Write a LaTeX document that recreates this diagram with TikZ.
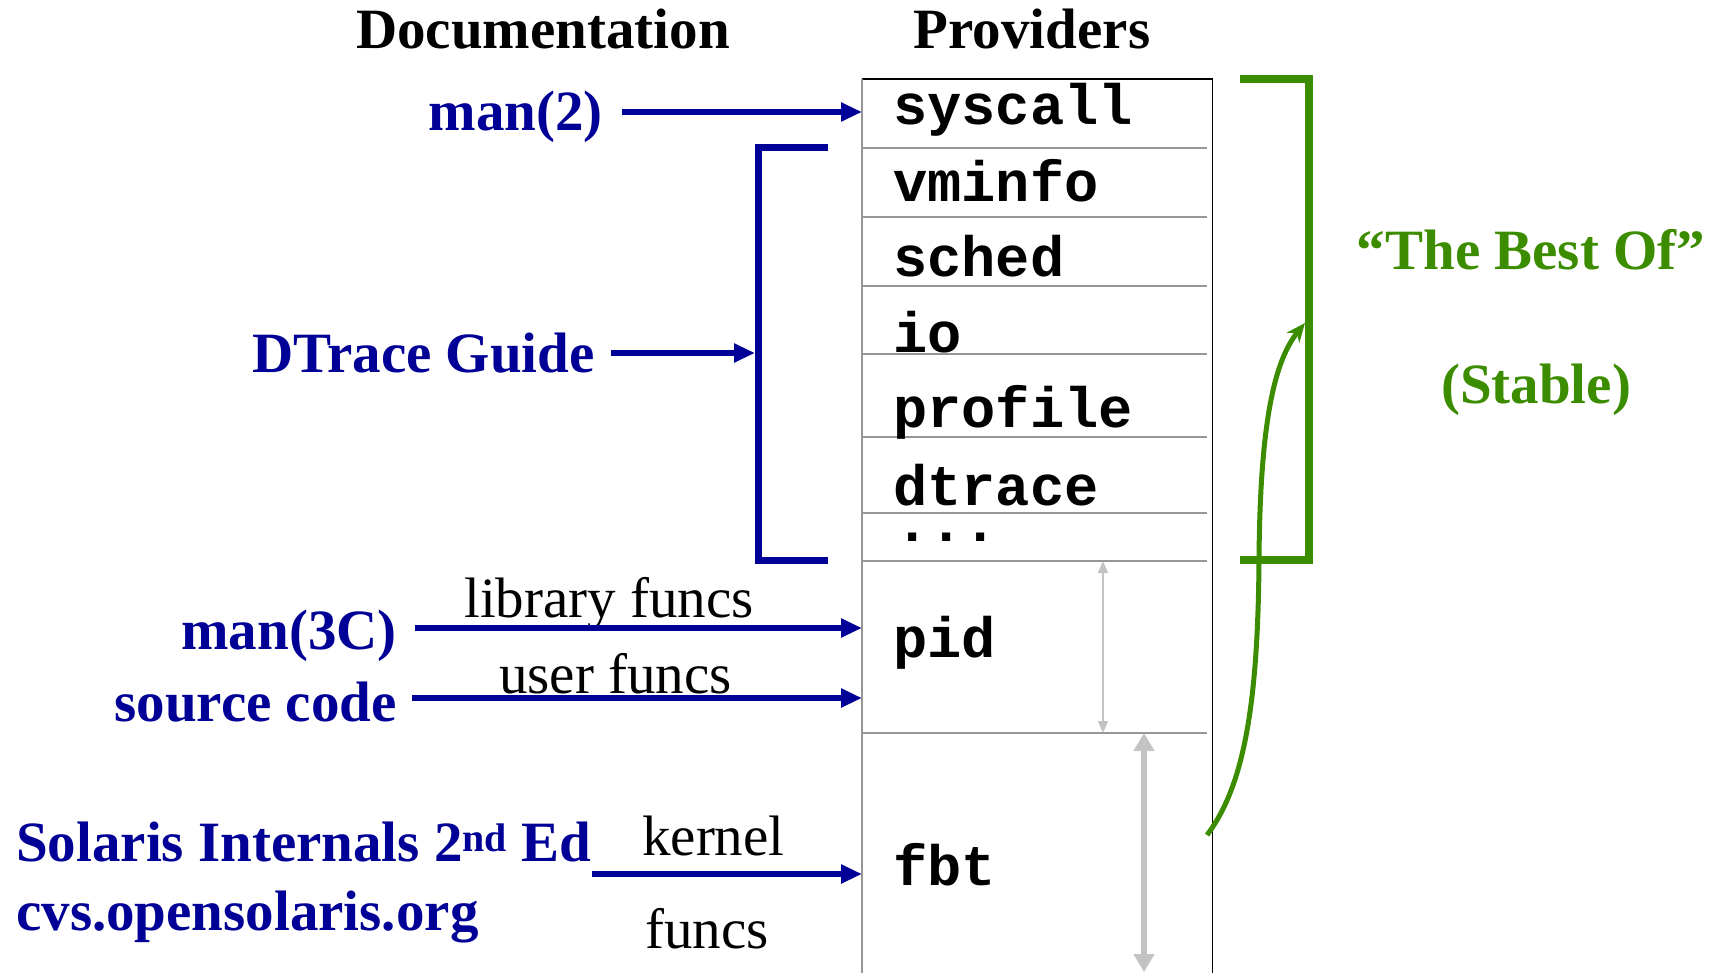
\documentclass[tikz,border=0pt]{standalone}
\usepackage{fontspec}
\setmainfont{Liberation Serif}
\setmonofont{Liberation Mono}
\usetikzlibrary{arrows.meta}
\definecolor{navyb}{RGB}{0,0,150}
\definecolor{grn}{RGB}{60,140,0}
\definecolor{lgray}{RGB}{195,195,195}
\definecolor{dgray}{RGB}{150,150,150}
\begin{document}
\begin{tikzpicture}[x=1pt,y=-1pt,
  bluelbl/.style={font=\fontsize{57}{60}\selectfont\bfseries, text=navyb, inner sep=0pt},
  ttl/.style={font=\fontsize{57}{60}\selectfont\bfseries, text=black, inner sep=0pt},
  blk/.style={font=\fontsize{57}{60}\selectfont, text=black, inner sep=0pt},
  grnlbl/.style={font=\fontsize{57}{60}\selectfont\bfseries, text=grn, inner sep=0pt},
  prv/.style={font=\fontsize{57}{60}\selectfont\ttfamily\bfseries, text=black, inner sep=0pt, anchor=base west},
  barrow/.style={navyb, line width=5.5pt, -{Triangle[length=21pt,width=18pt]}},
  divider/.style={dgray, line width=1.5pt},
]
\useasboundingbox (0,0) rectangle (1719,973);

% titles
\node[ttl, anchor=base] (doc) at (543,49) {Documentation};
\node[ttl, anchor=base] (provt) at (1032,49) {Providers};

% provider box
\node[minimum width=350pt, minimum height=894pt, anchor=north west, inner sep=0pt] (prov) at (862,79) {};
\draw[black, line width=1.5pt] (prov.south east) -- (prov.north east) -- (prov.north west);
\draw[dgray, line width=2pt] (prov.north west) -- (prov.south west);
\foreach \yy in {148,217,286,354,437,513,561,733}
  \draw[divider] (862,\yy) -- (1207,\yy);

\node[prv] (sc) at (893,125) {syscall};
\node[prv] (vm) at (893,202) {vminfo};
\node[prv] (sch) at (893,277) {sched};
\node[prv] (io) at (893,353) {io};
\node[prv] (prof) at (893,428) {profile};
\node[prv] (dtr) at (893,505) {dtrace};
\node[prv] (dots) at (895,541) {...};
\node[prv] (pid) at (893,657) {pid};
\node[prv] (fbt) at (893,885) {fbt};

% gray range arrows
\coordinate (g1a) at (1103,561);
\coordinate (g1b) at (1103,733);
\draw[lgray, line width=1.5pt, {Triangle[length=12pt,width=10pt]}-{Triangle[length=12pt,width=10pt]}] (g1a) -- (g1b);
\coordinate (g2a) at (1144,733);
\coordinate (g2b) at (1144,972);
\draw[lgray, line width=6pt, {Triangle[length=18pt,width=20pt]}-{Triangle[length=18pt,width=20pt]}] (g2a) -- (g2b);

% left labels
\node[bluelbl, anchor=base east] (man2) at (603,131) {man(2)};
\node[bluelbl, anchor=base east] (dg) at (595,373) {DTrace Guide};
\node[bluelbl, anchor=base east] (man3) at (397,649) {man(3C)};
\node[bluelbl, anchor=base east] (src) at (397,721) {source code};
\node[bluelbl, anchor=base west] (sol) at (16,861) {Solaris Internals 2\textsuperscript{nd} Ed};
\node[bluelbl, anchor=base west] (cvs) at (16,930) {cvs.opensolaris.org};

\node[blk, anchor=base west] (lib) at (464,617) {library funcs};
\node[blk, anchor=base west] (usr) at (499,693) {user funcs};
\node[blk, anchor=base west] (ker) at (642,855) {kernel};
\node[blk, anchor=base west] (kf) at (645,948) {funcs};

% blue bracket
\draw[navyb, line width=7pt] (828,148) -- (758,148) -- (758,560) -- (828,560);
\coordinate (brkm) at (755,353);

% blue arrows
\coordinate (m2s) at (622,112);
\draw[barrow] (m2s) -- (m2s -| prov.west);
\coordinate (dgs) at (611,353);
\draw[barrow] (dgs) -- (brkm);
\coordinate (m3s) at (415,628);
\draw[barrow] (m3s) -- (m3s -| prov.west);
\coordinate (srs) at (412,698);
\draw[barrow] (srs) -- (srs -| prov.west);
\coordinate (kes) at (592,874);
\draw[barrow] (kes) -- (kes -| prov.west);

% green bracket and curve
\draw[grn, line width=8pt] (1240,79) -- (1309,79) -- (1309,560) -- (1240,560);
\coordinate (gcs) at (1207,835);
\coordinate (gce) at (1305,323);
\draw[grn, line width=5pt, -{Stealth[length=19pt,width=16pt]}] (gcs) .. controls (1245,785) and (1258,700) .. (1259,560) .. controls (1260,420) and (1275,360) .. (gce);

\node[grnlbl, anchor=base] (best) at (1531,270) {“The Best Of”};
\node[grnlbl, anchor=base] (stab) at (1536,403) {(Stable)};
\end{tikzpicture}
\end{document}
